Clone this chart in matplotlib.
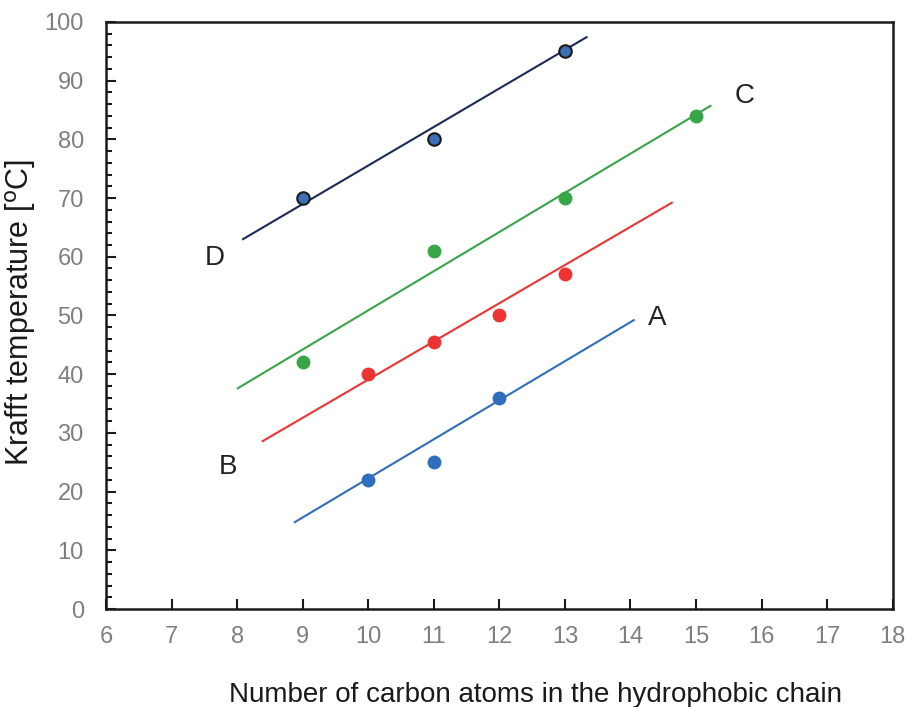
import matplotlib
matplotlib.use("Agg")
import matplotlib.pyplot as plt
from matplotlib.ticker import MultipleLocator

plt.rcParams['font.family'] = ['Liberation Sans', 'DejaVu Sans']

# measured points
a_x = [10, 11, 12]
a_y = [22, 25, 36]
b_x = [10, 11, 12, 13]
b_y = [40, 45.5, 50, 57]
c_x = [9, 11, 13, 15]
c_y = [42, 61, 70, 84]
d_x = [9, 11, 13]
d_y = [70, 80, 95]

# trend line end points
a_line_x = [8.88, 14.05]
a_line_y = [14.8, 49.2]
b_line_x = [8.39, 14.63]
b_line_y = [28.6, 69.2]
c_line_x = [8.01, 15.22]
c_line_y = [37.6, 85.7]
d_line_x = [8.09, 13.33]
d_line_y = [63.0, 97.4]

labels = ['A', 'B', 'C', 'D']
label_x = [14.4, 7.86, 15.74, 7.66]
label_y = [49.6, 24.2, 87.4, 59.8]

fig = plt.figure(figsize=(9.1, 7.07), dpi=100)
ax = fig.add_axes([0.1165, 0.1386, 0.8645, 0.8304])

ax.plot(a_line_x, a_line_y, color='#2f6ebc', lw=1.5)
ax.plot(b_line_x, b_line_y, color='#ee3333', lw=1.5)
ax.plot(c_line_x, c_line_y, color='#38a548', lw=1.5)
ax.plot(d_line_x, d_line_y, color='#1b2a5a', lw=1.5)

ax.plot(a_x, a_y, 'o', color='#2f6ebc', ms=10, mec='none')
ax.plot(b_x, b_y, 'o', color='#ee3333', ms=10, mec='none')
ax.plot(c_x, c_y, 'o', color='#38a548', ms=10, mec='none')
ax.plot(d_x, d_y, 'o', color='#3b6fb6', ms=9, mec='#1a1a1a', mew=1.5)

for lab, lx, ly in zip(labels, label_x, label_y):
    ax.text(lx, ly, lab, fontsize=20, color='#222222', ha='center', va='center')

ax.set_xlim(6, 18)
ax.set_ylim(0, 100)
ax.xaxis.set_major_locator(MultipleLocator(1))
ax.yaxis.set_major_locator(MultipleLocator(10))
ax.yaxis.set_minor_locator(MultipleLocator(2))
ax.tick_params(axis='both', which='major', direction='in', length=7, width=1.5,
               labelsize=17, labelcolor='#7f7f7f', color='#1a1a1a')
ax.tick_params(axis='y', which='minor', direction='in', length=4, width=1.5, color='#1a1a1a')
ax.tick_params(axis='x', pad=12)
ax.tick_params(axis='y', pad=16)
for s in ax.spines.values():
    s.set_linewidth(1.8)
    s.set_color('#1a1a1a')

ax.set_xlabel('Number of carbon atoms in the hydrophobic chain', fontsize=20,
              color='#1a1a1a')
ax.xaxis.set_label_coords(0.546, -0.125)
ax.set_ylabel('Krafft temperature [$^{\\mathrm{o}}$C]', fontsize=22, color='#1a1a1a')
ax.yaxis.set_label_coords(-0.087, 0.505)

fig.savefig('out.png', dpi=100)
